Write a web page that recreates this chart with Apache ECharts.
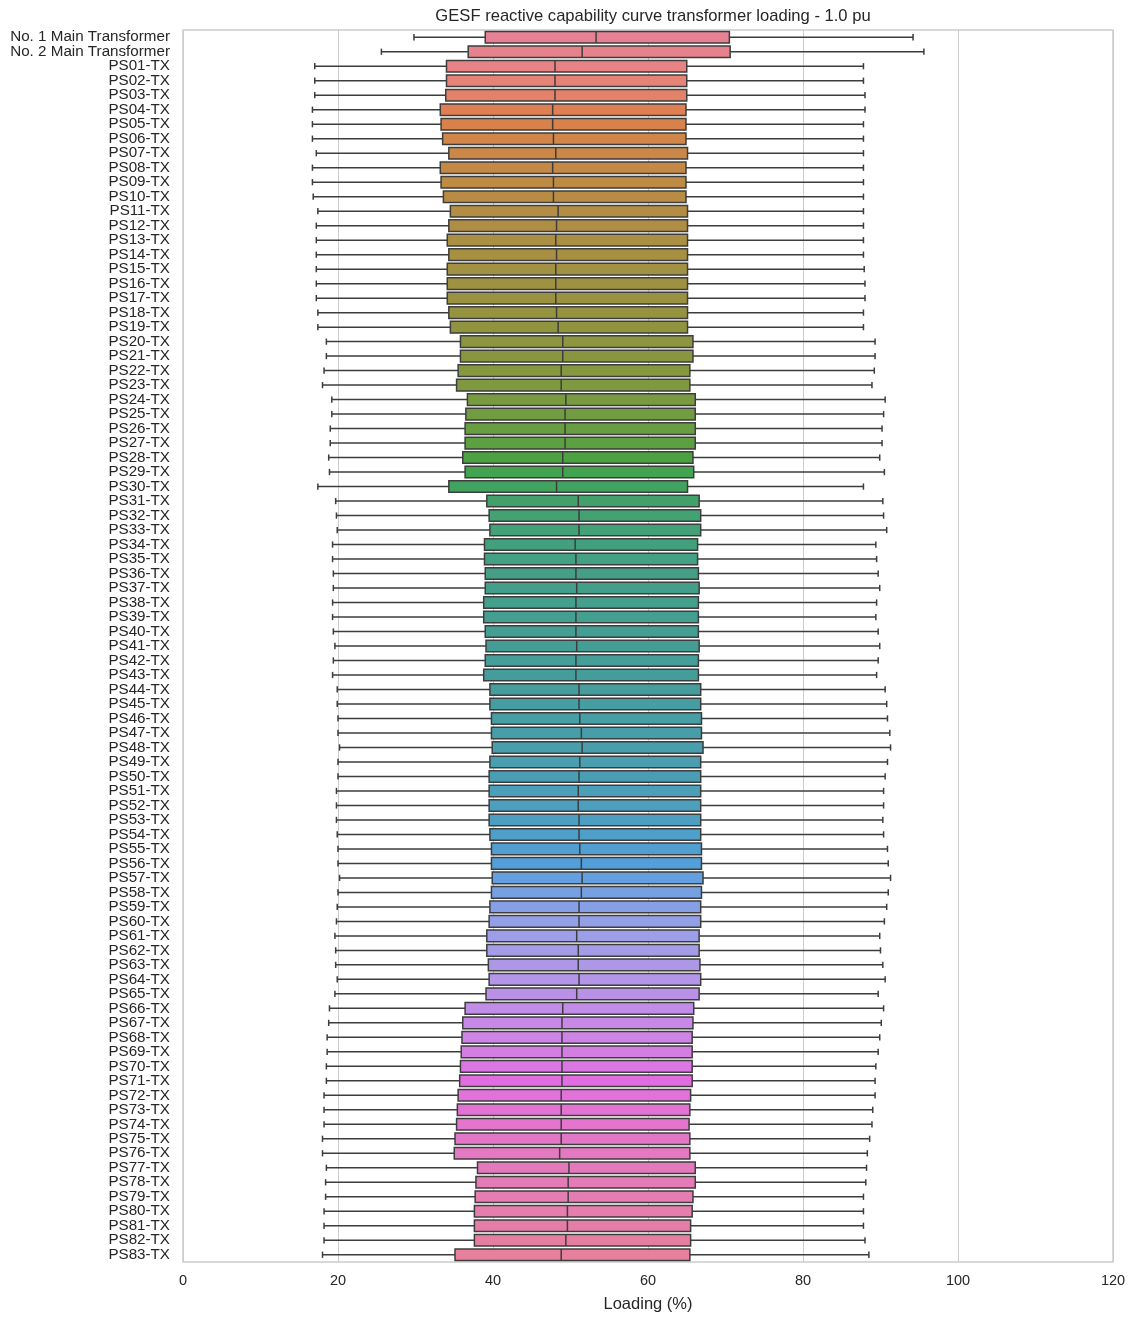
<!DOCTYPE html>
<html>
<head>
<meta charset="utf-8">
<script src="https://cdn.jsdelivr.net/npm/echarts@6/dist/echarts.min.js"></script>
<style>
  html, body { margin: 0; padding: 0; background: #fff; }
  #main { width: 1134px; height: 1320px; }
</style>
</head>
<body>
<div id="main"></div>
<script>
// transformer names, top to bottom
var names = ['No. 1 Main Transformer', 'No. 2 Main Transformer'];
for (var k = 1; k <= 83; k++) {
    names.push('PS' + (k < 10 ? '0' + k : k) + '-TX');
}

// box statistics (% loading)
var whiskerLo = [29.8, 25.6, 17.0, 17.0, 17.0, 16.7, 16.7, 16.7, 17.2, 16.7, 16.7, 16.8, 17.4, 17.2, 17.2, 17.2, 17.2,
    17.2, 17.2, 17.4, 17.4, 18.5, 18.5, 18.2, 18.0, 19.2, 19.2, 19.0, 19.0, 18.8, 18.9, 17.4, 19.7, 19.8, 19.9,
    19.3, 19.3, 19.4, 19.4, 19.3, 19.3, 19.4, 19.6, 19.4, 19.3, 19.9, 19.9, 20.0, 20.0, 20.2, 20.0, 20.0, 19.8,
    19.8, 19.8, 19.9, 20.0, 20.0, 20.2, 20.0, 19.9, 19.8, 19.6, 19.7, 19.7, 19.9, 19.6, 18.9, 18.8, 18.6, 18.6,
    18.5, 18.5, 18.2, 18.2, 18.2, 18.0, 18.0, 18.5, 18.4, 18.4, 18.2, 18.2, 18.2, 18.0];
var q1 = [39.0, 36.8, 34.0, 34.0, 33.9, 33.2, 33.3, 33.5, 34.3, 33.2, 33.3, 33.6, 34.5, 34.3, 34.1, 34.3, 34.1,
    34.1, 34.1, 34.3, 34.5, 35.8, 35.8, 35.5, 35.3, 36.7, 36.5, 36.4, 36.4, 36.1, 36.4, 34.3, 39.2, 39.5, 39.6,
    38.9, 38.9, 39.0, 39.0, 38.8, 38.8, 39.0, 39.1, 39.0, 38.8, 39.6, 39.6, 39.8, 39.8, 39.9, 39.6, 39.5, 39.5,
    39.5, 39.5, 39.6, 39.8, 39.8, 39.9, 39.8, 39.6, 39.5, 39.2, 39.2, 39.4, 39.5, 39.1, 36.4, 36.1, 36.0, 35.9,
    35.8, 35.7, 35.5, 35.4, 35.3, 35.1, 35.0, 38.0, 37.8, 37.7, 37.6, 37.6, 37.6, 35.1];
var median = [53.3, 51.5, 48.0, 48.0, 48.0, 47.7, 47.7, 47.8, 48.1, 47.7, 47.8, 47.8, 48.4, 48.2, 48.1, 48.2, 48.1,
    48.1, 48.1, 48.2, 48.4, 49.0, 49.0, 48.8, 48.8, 49.4, 49.3, 49.3, 49.3, 49.0, 49.0, 48.2, 51.0, 51.1, 51.1,
    50.6, 50.7, 50.7, 50.8, 50.7, 50.7, 50.7, 50.8, 50.7, 50.7, 51.1, 51.1, 51.2, 51.4, 51.5, 51.2, 51.1, 51.0,
    51.0, 51.1, 51.1, 51.2, 51.4, 51.5, 51.4, 51.1, 51.1, 50.8, 51.0, 51.0, 51.1, 50.8, 49.0, 48.9, 48.9, 48.9,
    48.9, 48.9, 48.8, 48.8, 48.8, 48.8, 48.6, 49.8, 49.7, 49.7, 49.6, 49.6, 49.4, 48.8];
var q3 = [70.5, 70.6, 65.0, 65.0, 65.0, 64.9, 64.9, 64.9, 65.1, 64.9, 64.9, 64.9, 65.1, 65.1, 65.1, 65.1, 65.1,
    65.1, 65.1, 65.1, 65.1, 65.8, 65.8, 65.4, 65.4, 66.1, 66.1, 66.1, 66.1, 65.8, 65.9, 65.1, 66.6, 66.8, 66.8,
    66.4, 66.4, 66.5, 66.6, 66.5, 66.5, 66.5, 66.6, 66.5, 66.5, 66.8, 66.8, 66.9, 66.9, 67.1, 66.8, 66.8, 66.8,
    66.8, 66.8, 66.8, 66.9, 66.9, 67.1, 66.9, 66.8, 66.8, 66.6, 66.6, 66.7, 66.8, 66.6, 65.9, 65.8, 65.7, 65.7,
    65.7, 65.7, 65.5, 65.4, 65.3, 65.4, 65.4, 66.1, 66.1, 65.8, 65.7, 65.5, 65.5, 65.4];
var whiskerHi = [94.2, 95.6, 87.8, 87.8, 88.0, 88.0, 87.8, 87.8, 87.8, 87.8, 87.8, 87.8, 87.8, 87.8, 87.8, 87.8, 87.9,
    88.0, 88.0, 87.8, 87.8, 89.3, 89.3, 89.2, 88.9, 90.6, 90.4, 90.2, 90.2, 89.9, 90.5, 87.8, 90.3, 90.4, 90.8,
    89.4, 89.5, 89.7, 89.9, 89.5, 89.4, 89.7, 89.9, 89.7, 89.5, 90.6, 90.8, 90.9, 91.2, 91.3, 90.9, 90.6, 90.4,
    90.4, 90.3, 90.4, 90.9, 91.0, 91.3, 91.0, 90.8, 90.5, 89.9, 90.0, 90.3, 90.6, 89.7, 90.4, 90.1, 89.9, 89.7,
    89.4, 89.3, 89.3, 89.0, 88.9, 88.6, 88.3, 88.2, 88.1, 87.8, 87.8, 87.8, 88.0, 88.5];

var xTicks = [0, 20, 40, 60, 80, 100, 120];

// husl palette (seaborn style) -> rgb
var M = [[3.240969941904521, -1.537383177570093, -0.498610760293],
    [-0.96924363628087, 1.87596750150772, 0.041555057407175],
    [0.055630079696993, -0.20397695888897, 1.056971514242878]];
function maxChroma(L, H) {
    var sub1 = Math.pow(L + 16, 3) / 1560896;
    var sub2 = sub1 > 0.0088564516 ? sub1 : L / 903.2962962;
    var hr = H / 360 * 2 * Math.PI, best = Infinity;
    for (var c = 0; c < 3; c++) {
        var m1 = M[c][0], m2 = M[c][1], m3 = M[c][2];
        for (var t = 0; t < 2; t++) {
            var top1 = (284517 * m1 - 94839 * m3) * sub2;
            var top2 = (838422 * m3 + 769860 * m2 + 731718 * m1) * L * sub2 - 769860 * t * L;
            var bottom = (632260 * m3 - 126452 * m2) * sub2 + 126452 * t;
            var len = (top2 / bottom) / (Math.sin(hr) - (top1 / bottom) * Math.cos(hr));
            if (len >= 0 && len < best) best = len;
        }
    }
    return best;
}
function huslToRgb(H, S, L) {
    var C = maxChroma(L, H) / 100 * S;
    var hr = H / 360 * 2 * Math.PI;
    var U = Math.cos(hr) * C, V = Math.sin(hr) * C;
    var varU = U / (13 * L) + 0.19783000664283;
    var varV = V / (13 * L) + 0.46831999493879;
    var Y = L <= 8 ? L / 903.2962962 : Math.pow((L + 16) / 116, 3);
    var X = -(9 * Y * varU) / ((varU - 4) * varV - varU * varV);
    var Z = (9 * Y - 15 * varV * Y - varV * X) / (3 * varV);
    return M.map(function (r) {
        var v = r[0] * X + r[1] * Y + r[2] * Z;
        v = v <= 0.0031308 ? 12.92 * v : 1.055 * Math.pow(v, 1 / 2.4) - 0.055;
        return Math.min(1, Math.max(0, v));
    });
}
function desaturate(rgb, p) {
    var r = rgb[0], g = rgb[1], b = rgb[2];
    var mx = Math.max(r, g, b), mn = Math.min(r, g, b);
    var l = (mx + mn) / 2, h = 0, s = 0;
    if (mx !== mn) {
        var d = mx - mn;
        s = l <= 0.5 ? d / (mx + mn) : d / (2 - mx - mn);
        var rc = (mx - r) / d, gc = (mx - g) / d, bc = (mx - b) / d;
        if (r === mx) h = bc - gc; else if (g === mx) h = 2 + rc - bc; else h = 4 + gc - rc;
        h = ((h / 6) % 1 + 1) % 1;
    }
    s *= p;
    function v(m1, m2, hue) {
        hue = ((hue % 1) + 1) % 1;
        if (hue < 1 / 6) return m1 + (m2 - m1) * hue * 6;
        if (hue < 0.5) return m2;
        if (hue < 2 / 3) return m1 + (m2 - m1) * (2 / 3 - hue) * 6;
        return m1;
    }
    if (s === 0) return [l, l, l];
    var m2 = l <= 0.5 ? l * (1 + s) : l + s - l * s;
    var m1 = 2 * l - m2;
    return [v(m1, m2, h + 1 / 3), v(m1, m2, h), v(m1, m2, h - 1 / 3)];
}
function toHex(rgb) {
    return '#' + rgb.map(function (x) {
        var s = Math.round(x * 255).toString(16);
        return s.length < 2 ? '0' + s : s;
    }).join('');
}
var colors = names.map(function (n, i) {
    var h = ((i / names.length) + 0.01) % 1 * 359;
    return toHex(desaturate(huslToRgb(h, 0.9 * 99, 0.65 * 99), 0.75));
});

var data = names.map(function (n, i) {
    return [i, whiskerLo[i], q1[i], median[i], q3[i], whiskerHi[i]];
});

var lineColor = '#3d3d3d';
var myChart = echarts.init(document.getElementById('main'));
var option = {
    animation: false,
    backgroundColor: '#ffffff',
    textStyle: { fontFamily: 'Liberation Sans, Arial, sans-serif' },
    title: {
        text: 'GESF reactive capability curve transformer loading - 1.0 pu',
        left: 648,
        textAlign: 'center',
        top: 3,
        textStyle: { fontSize: 16.6, fontWeight: 'normal', color: '#262626' }
    },
    grid: {
        left: 183, right: 21, top: 30, bottom: 58,
        show: true, borderColor: '#cccccc', borderWidth: 1.5, backgroundColor: 'transparent'
    },
    xAxis: {
        type: 'value',
        min: xTicks[0], max: xTicks[xTicks.length - 1], interval: 20,
        name: 'Loading (%)',
        nameLocation: 'middle',
        nameGap: 34,
        nameTextStyle: { fontSize: 16.5, color: '#262626' },
        axisLine: { show: false },
        axisTick: { show: false },
        axisLabel: { fontSize: 14.5, color: '#262626', margin: 11 },
        splitLine: { show: true, lineStyle: { color: '#cccccc', width: 1 } }
    },
    yAxis: {
        type: 'category',
        data: names,
        inverse: true,
        axisLine: { show: false },
        axisTick: { show: false },
        splitLine: { show: false },
        axisLabel: { fontSize: 15.2, color: '#262626', margin: 13, interval: 0 }
    },
    series: [{
        type: 'custom',
        data: data,
        encode: { x: [1, 2, 3, 4, 5], y: 0 },
        renderItem: function (params, api) {
            var c = api.value(0);
            var lo = api.coord([api.value(1), c]);
            var b1 = api.coord([api.value(2), c]);
            var md = api.coord([api.value(3), c]);
            var b3 = api.coord([api.value(4), c]);
            var hi = api.coord([api.value(5), c]);
            var band = api.size([0, 1])[1];
            var h = band * 0.8, cap = h * 0.27, y = md[1];
            var ls = { stroke: lineColor, lineWidth: 1.5 };
            return {
                type: 'group',
                children: [
                    { type: 'line', shape: { x1: lo[0], y1: y, x2: b1[0], y2: y }, style: ls },
                    { type: 'line', shape: { x1: b3[0], y1: y, x2: hi[0], y2: y }, style: ls },
                    { type: 'line', shape: { x1: lo[0], y1: y - cap, x2: lo[0], y2: y + cap }, style: ls },
                    { type: 'line', shape: { x1: hi[0], y1: y - cap, x2: hi[0], y2: y + cap }, style: ls },
                    { type: 'rect', shape: { x: b1[0], y: y - h / 2, width: b3[0] - b1[0], height: h },
                      style: { fill: colors[params.dataIndex], stroke: lineColor, lineWidth: 1.5 } },
                    { type: 'line', shape: { x1: md[0], y1: y - h / 2, x2: md[0], y2: y + h / 2 }, style: ls }
                ]
            };
        }
    }]
};
myChart.setOption(option);
</script>
</body>
</html>
